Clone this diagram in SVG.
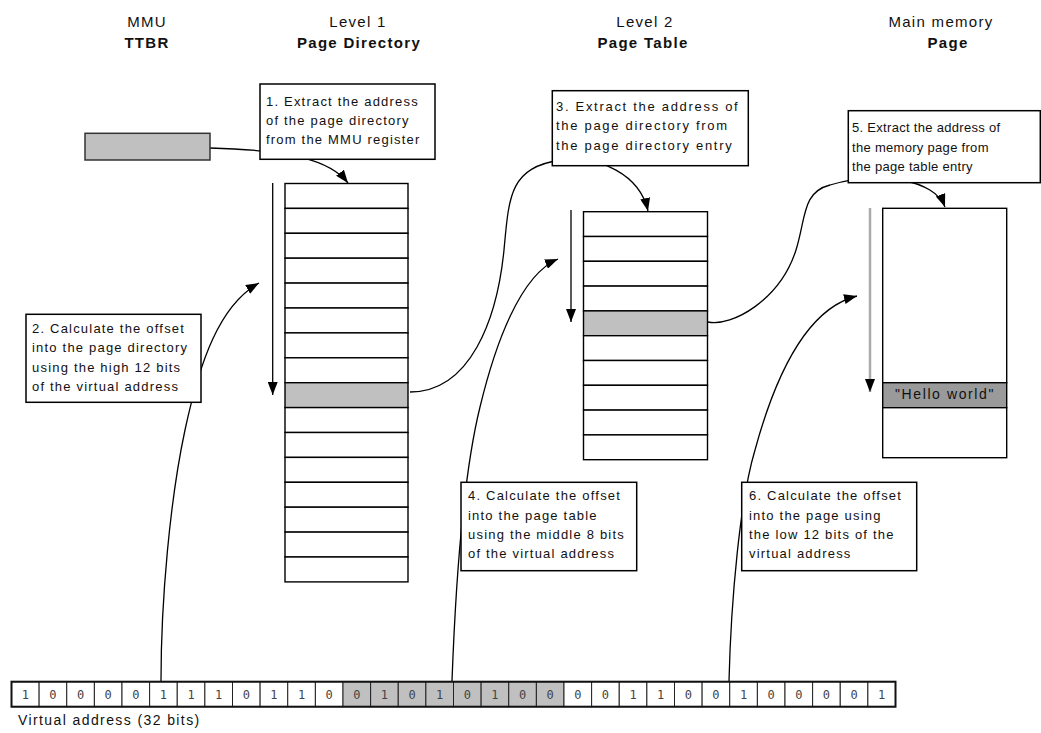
<svg xmlns="http://www.w3.org/2000/svg" width="1041" height="733" viewBox="0 0 1041 733">
<style>
text{font-family:"Liberation Sans",Arial,Helvetica,sans-serif;fill:#111}
.h{font-size:15px;letter-spacing:1.3px;text-anchor:middle}
.hb{font-weight:bold}
.t{font-size:13px;letter-spacing:1.2px}
.b{fill:#fff;stroke:#000;stroke-width:1.5}
.r{fill:#fff;stroke:#000;stroke-width:1.4}
.g{fill:#c0c0c0;stroke:#000;stroke-width:1.4}
.c{fill:none;stroke:#000;stroke-width:1.3}
.bit{fill:#fff;stroke:#222;stroke-width:1}
.bitg{fill:#c0c0c0;stroke:#222;stroke-width:1}
.d{font-family:"DejaVu Sans Mono","Liberation Mono",monospace;font-size:12px;fill:#444;text-anchor:middle}
</style>
<defs>
<marker id="ah" markerUnits="userSpaceOnUse" markerWidth="14" markerHeight="10" refX="13" refY="5" orient="auto"><path d="M0,0 L13,5 L0,10 Z" fill="#000"/></marker>
</defs>
<rect width="1041" height="733" fill="#fff"/>

<g id="headers">
<text class="h" x="147" y="27">MMU</text>
<text class="h hb" x="147" y="48">TTBR</text>
<text class="h" x="358" y="27">Level 1</text>
<text class="h hb" x="359" y="48">Page Directory</text>
<text class="h" x="645" y="27">Level 2</text>
<text class="h hb" x="643" y="48">Page Table</text>
<text class="h" x="941" y="27">Main memory</text>
<text class="h hb" x="948" y="48">Page</text>
</g>

<g id="connectors">
<path class="c" d="M210,148 C290,150 330,160 348,183" marker-end="url(#ah)"/>
<path class="c" d="M410,392 C470,392 497,320 504,250 C509,195 510,168 560,160 C600,155 640,175 648,211" marker-end="url(#ah)"/>
<path class="c" d="M708,322 C732,327 780,300 796,250 C806,218 802,192 830,185 C880,170 935,180 945,207" marker-end="url(#ah)"/>
<path class="c" d="M161,681 C161,600 170,500 185,430 C200,360 220,305 259,283" marker-end="url(#ah)"/>
<path class="c" d="M452,681 C455,600 462,480 480,407 C495,345 520,275 558,259" marker-end="url(#ah)"/>
<path class="c" d="M729,681 C731,600 740,500 755,450 C770,395 800,310 857,296" marker-end="url(#ah)"/>
<path class="c" d="M272.7,183 L272.7,395" stroke="#222" marker-end="url(#ah)"/>
<path class="c" d="M571,210 L571,322" stroke="#555" marker-end="url(#ah)"/>
<path fill="none" stroke="#aaa" stroke-width="2.5" d="M870,208 L870,392" marker-end="url(#ah)"/>
</g>

<g id="ttbr">
<rect x="85" y="133.3" width="125" height="26.7" fill="#c0c0c0" stroke="#333" stroke-width="1.5"/>
</g>

<g id="page-directory">
<rect class="r" x="285" y="183.5" width="123" height="24.9"/>
<rect class="r" x="285" y="208.4" width="123" height="24.9"/>
<rect class="r" x="285" y="233.3" width="123" height="24.9"/>
<rect class="r" x="285" y="258.2" width="123" height="24.9"/>
<rect class="r" x="285" y="283.1" width="123" height="24.9"/>
<rect class="r" x="285" y="308" width="123" height="24.9"/>
<rect class="r" x="285" y="332.9" width="123" height="24.9"/>
<rect class="r" x="285" y="357.8" width="123" height="24.9"/>
<rect class="g" x="285" y="382.7" width="123" height="24.9"/>
<rect class="r" x="285" y="407.6" width="123" height="24.9"/>
<rect class="r" x="285" y="432.5" width="123" height="24.9"/>
<rect class="r" x="285" y="457.4" width="123" height="24.9"/>
<rect class="r" x="285" y="482.3" width="123" height="24.9"/>
<rect class="r" x="285" y="507.2" width="123" height="24.9"/>
<rect class="r" x="285" y="532.1" width="123" height="24.9"/>
<rect class="r" x="285" y="557" width="123" height="24.9"/>
</g>

<g id="page-table">
<rect class="r" x="583.5" y="211.7" width="124" height="24.8"/>
<rect class="r" x="583.5" y="236.5" width="124" height="24.8"/>
<rect class="r" x="583.5" y="261.3" width="124" height="24.8"/>
<rect class="r" x="583.5" y="286.1" width="124" height="24.8"/>
<rect class="g" x="583.5" y="310.9" width="124" height="24.8"/>
<rect class="r" x="583.5" y="335.7" width="124" height="24.8"/>
<rect class="r" x="583.5" y="360.5" width="124" height="24.8"/>
<rect class="r" x="583.5" y="385.3" width="124" height="24.8"/>
<rect class="r" x="583.5" y="410.1" width="124" height="24.8"/>
<rect class="r" x="583.5" y="434.9" width="124" height="24.8"/>
</g>

<g id="memory-page">
<rect class="r" x="882.7" y="208.3" width="124" height="174.4"/>
<rect x="882.7" y="382.7" width="124" height="25" fill="#9a9a9a" stroke="#000" stroke-width="1.4"/>
<rect class="r" x="882.7" y="407.7" width="124" height="50"/>
<text x="945" y="399" style="font-size:14px;letter-spacing:1.6px;text-anchor:middle">"Hello world"</text>
</g>

<g id="step1">
<rect class="b" x="260" y="84" width="175" height="75.3"/>
<text class="t" x="266" y="106">1. Extract the address</text>
<text class="t" x="266" y="125">of the page directory</text>
<text class="t" x="266" y="144">from the MMU register</text>
</g>

<g id="step2">
<rect class="b" x="26" y="314.3" width="175" height="88"/>
<text class="t" x="32" y="333">2. Calculate the offset</text>
<text class="t" x="32" y="352">into the page directory</text>
<text class="t" x="32" y="371.5">using the high 12 bits</text>
<text class="t" x="32" y="390.5">of the virtual address</text>
</g>

<g id="step3">
<rect class="b" x="552.3" y="90.7" width="196" height="75"/>
<text class="t" x="556" y="110.5" style="letter-spacing:1.7px">3. Extract the address of</text>
<text class="t" x="556" y="130" style="letter-spacing:1.7px">the page directory from</text>
<text class="t" x="556" y="149.5" style="letter-spacing:1.7px">the page directory entry</text>
</g>

<g id="step4">
<rect class="b" x="461" y="482.3" width="175.7" height="88.4"/>
<text class="t" x="468" y="500">4. Calculate the offset</text>
<text class="t" x="468" y="519.5">into the page table</text>
<text class="t" x="468" y="539">using the middle 8 bits</text>
<text class="t" x="468" y="558">of the virtual address</text>
</g>

<g id="step5">
<rect class="b" x="848.3" y="110.7" width="192" height="72"/>
<text class="t" x="852" y="131.5" style="letter-spacing:0.3px">5. Extract the address of</text>
<text class="t" x="852" y="151.5" style="letter-spacing:0.3px">the memory page from</text>
<text class="t" x="852" y="171" style="letter-spacing:0.3px">the page table entry</text>
</g>

<g id="step6">
<rect class="b" x="741.7" y="482.3" width="175" height="88.4"/>
<text class="t" x="749" y="500">6. Calculate the offset</text>
<text class="t" x="749" y="519.5">into the page using</text>
<text class="t" x="749" y="539">the low 12 bits of the</text>
<text class="t" x="749" y="558">virtual address</text>
</g>

<g id="virtual-address">
<rect class="bit" x="11.5" y="681.7" width="27.625" height="25"/>
<rect class="bit" x="39.125" y="681.7" width="27.625" height="25"/>
<rect class="bit" x="66.75" y="681.7" width="27.625" height="25"/>
<rect class="bit" x="94.375" y="681.7" width="27.625" height="25"/>
<rect class="bit" x="122" y="681.7" width="27.625" height="25"/>
<rect class="bit" x="149.625" y="681.7" width="27.625" height="25"/>
<rect class="bit" x="177.25" y="681.7" width="27.625" height="25"/>
<rect class="bit" x="204.875" y="681.7" width="27.625" height="25"/>
<rect class="bit" x="232.5" y="681.7" width="27.625" height="25"/>
<rect class="bit" x="260.125" y="681.7" width="27.625" height="25"/>
<rect class="bit" x="287.75" y="681.7" width="27.625" height="25"/>
<rect class="bit" x="315.375" y="681.7" width="27.625" height="25"/>
<rect class="bitg" x="343" y="681.7" width="27.625" height="25"/>
<rect class="bitg" x="370.625" y="681.7" width="27.625" height="25"/>
<rect class="bitg" x="398.25" y="681.7" width="27.625" height="25"/>
<rect class="bitg" x="425.875" y="681.7" width="27.625" height="25"/>
<rect class="bitg" x="453.5" y="681.7" width="27.625" height="25"/>
<rect class="bitg" x="481.125" y="681.7" width="27.625" height="25"/>
<rect class="bitg" x="508.75" y="681.7" width="27.625" height="25"/>
<rect class="bitg" x="536.375" y="681.7" width="27.625" height="25"/>
<rect class="bit" x="564" y="681.7" width="27.625" height="25"/>
<rect class="bit" x="591.625" y="681.7" width="27.625" height="25"/>
<rect class="bit" x="619.25" y="681.7" width="27.625" height="25"/>
<rect class="bit" x="646.875" y="681.7" width="27.625" height="25"/>
<rect class="bit" x="674.5" y="681.7" width="27.625" height="25"/>
<rect class="bit" x="702.125" y="681.7" width="27.625" height="25"/>
<rect class="bit" x="729.75" y="681.7" width="27.625" height="25"/>
<rect class="bit" x="757.375" y="681.7" width="27.625" height="25"/>
<rect class="bit" x="785" y="681.7" width="27.625" height="25"/>
<rect class="bit" x="812.625" y="681.7" width="27.625" height="25"/>
<rect class="bit" x="840.25" y="681.7" width="27.625" height="25"/>
<rect class="bit" x="867.875" y="681.7" width="27.625" height="25"/>
<rect x="11.5" y="681.7" width="884" height="25" fill="none" stroke="#111" stroke-width="2"/>
<text class="d" x="25.31" y="698.5">1</text>
<text class="d" x="52.94" y="698.5">0</text>
<text class="d" x="80.56" y="698.5">0</text>
<text class="d" x="108.19" y="698.5">0</text>
<text class="d" x="135.81" y="698.5">0</text>
<text class="d" x="163.44" y="698.5">1</text>
<text class="d" x="191.06" y="698.5">1</text>
<text class="d" x="218.69" y="698.5">1</text>
<text class="d" x="246.31" y="698.5">0</text>
<text class="d" x="273.94" y="698.5">1</text>
<text class="d" x="301.56" y="698.5">1</text>
<text class="d" x="329.19" y="698.5">0</text>
<text class="d" x="356.81" y="698.5">0</text>
<text class="d" x="384.44" y="698.5">1</text>
<text class="d" x="412.06" y="698.5">0</text>
<text class="d" x="439.69" y="698.5">1</text>
<text class="d" x="467.31" y="698.5">0</text>
<text class="d" x="494.94" y="698.5">1</text>
<text class="d" x="522.56" y="698.5">0</text>
<text class="d" x="550.19" y="698.5">0</text>
<text class="d" x="577.81" y="698.5">0</text>
<text class="d" x="605.44" y="698.5">0</text>
<text class="d" x="633.06" y="698.5">1</text>
<text class="d" x="660.69" y="698.5">1</text>
<text class="d" x="688.31" y="698.5">0</text>
<text class="d" x="715.94" y="698.5">0</text>
<text class="d" x="743.56" y="698.5">1</text>
<text class="d" x="771.19" y="698.5">0</text>
<text class="d" x="798.81" y="698.5">0</text>
<text class="d" x="826.44" y="698.5">0</text>
<text class="d" x="854.06" y="698.5">0</text>
<text class="d" x="881.69" y="698.5">1</text>
<text x="18" y="725" style="font-size:14px;letter-spacing:1.4px">Virtual address (32 bits)</text>
</g>
</svg>
